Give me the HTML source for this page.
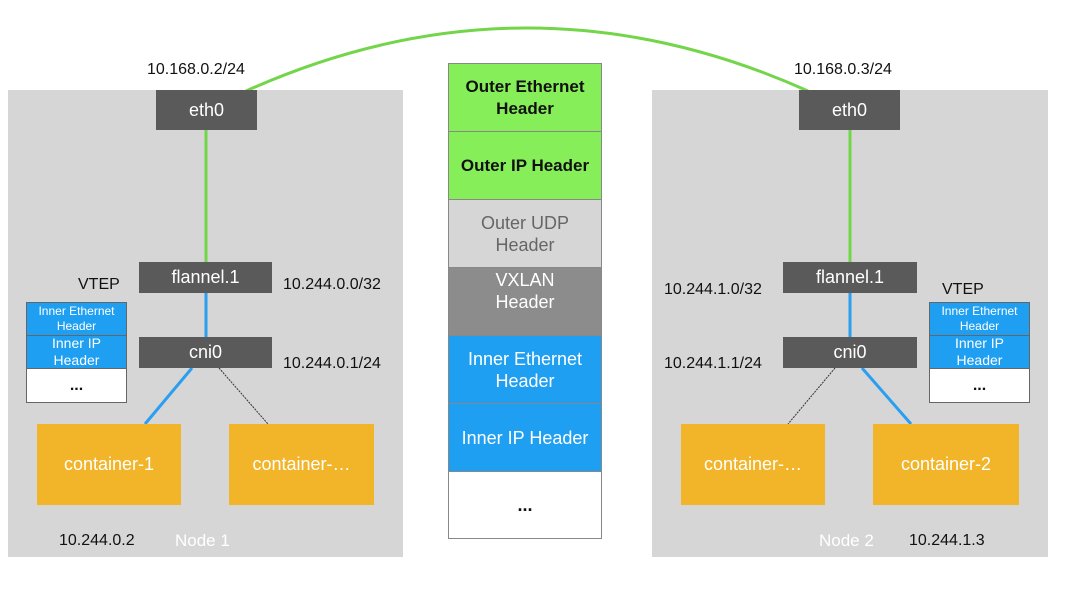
<!DOCTYPE html>
<html><head><style>
body{margin:0;width:1086px;height:596px;background:#fff;position:relative;overflow:hidden;font-family:"Liberation Sans",sans-serif}
.a{position:absolute;box-sizing:border-box;display:flex;align-items:center;justify-content:center;text-align:center}
.node{background:#d6d6d6}
.dk{background:#5a5a5a;color:#fff;font-size:18px}
.ct{background:#f2b52a;color:#fff;font-size:18px}
.t{position:absolute;font-size:16px;color:#111;white-space:nowrap}
.ps{border:1px solid #888;font-size:18px;line-height:22px}
.sm{border:1px solid #666;font-size:12px;line-height:15px;color:#fff}
</style></head><body>
<div class="a node" style="left:8px;top:90px;width:395px;height:467px"></div>
<div class="a node" style="left:652px;top:90px;width:396px;height:467px"></div>
<svg style="position:absolute;left:0;top:0" width="1086" height="596">
<path d="M246 91 Q527 -35 808 91" stroke="#72d54a" stroke-width="3" fill="none"/>
<line x1="206" y1="130" x2="206" y2="262" stroke="#72d54a" stroke-width="3"/>
<line x1="850" y1="130" x2="850" y2="262" stroke="#72d54a" stroke-width="3"/>
<line x1="206" y1="293" x2="206" y2="337" stroke="#2a9ef0" stroke-width="3"/>
<line x1="850" y1="293" x2="850" y2="337" stroke="#2a9ef0" stroke-width="3"/>
<line x1="192" y1="368" x2="145" y2="424" stroke="#2a9ef0" stroke-width="3"/>
<line x1="862" y1="368" x2="911" y2="424" stroke="#2a9ef0" stroke-width="3"/>
<line x1="219" y1="368" x2="268" y2="424" stroke="#333" stroke-width="1" stroke-dasharray="2,1"/>
<line x1="835" y1="368" x2="788" y2="424" stroke="#333" stroke-width="1" stroke-dasharray="2,1"/>
</svg>
<div class="a dk" style="left:156px;top:90px;width:101px;height:40px">eth0</div>
<div class="a dk" style="left:139px;top:262px;width:133px;height:31px">flannel.1</div>
<div class="a dk" style="left:139px;top:337px;width:133px;height:31px">cni0</div>
<div class="a dk" style="left:799px;top:90px;width:101px;height:40px">eth0</div>
<div class="a dk" style="left:783px;top:262px;width:134px;height:31px">flannel.1</div>
<div class="a dk" style="left:783px;top:337px;width:134px;height:31px">cni0</div>
<div class="a ct" style="left:37px;top:424px;width:144px;height:81px">container-1</div>
<div class="a ct" style="left:229px;top:424px;width:145px;height:81px">container-…</div>
<div class="a ct" style="left:681px;top:424px;width:144px;height:81px">container-…</div>
<div class="a ct" style="left:873px;top:424px;width:146px;height:81px">container-2</div>
<div class="a sm" style="left:26px;top:302px;width:101px;height:34px;background:#1f9ff2">Inner Ethernet<br>Header</div>
<div class="a sm" style="left:26px;top:335px;width:101px;height:34px;background:#1f9ff2;font-size:14px;line-height:17px">Inner IP<br>Header</div>
<div class="a sm" style="left:26px;top:368px;width:101px;height:35px;background:#fff;color:#111;font-size:16px;font-weight:bold">...</div>
<div class="a sm" style="left:929px;top:302px;width:101px;height:34px;background:#1f9ff2">Inner Ethernet<br>Header</div>
<div class="a sm" style="left:929px;top:335px;width:101px;height:34px;background:#1f9ff2;font-size:14px;line-height:17px">Inner IP<br>Header</div>
<div class="a sm" style="left:929px;top:368px;width:101px;height:35px;background:#fff;color:#111;font-size:16px;font-weight:bold">...</div>
<div class="a ps" style="left:448px;top:63px;width:154px;height:69px;background:#86ee58;color:#111;font-weight:bold;font-size:17px">Outer Ethernet<br>Header</div>
<div class="a ps" style="left:448px;top:131px;width:154px;height:69px;background:#86ee58;color:#111;font-weight:bold;font-size:17px">Outer IP Header</div>
<div class="a ps" style="left:448px;top:199px;width:154px;height:69px;background:#d6d6d6;color:#666">Outer UDP<br>Header</div>
<div class="a ps" style="left:448px;top:267px;width:154px;height:69px;background:#8c8c8c;color:#fff;align-items:flex-start;padding-top:1px">VXLAN<br>Header</div>
<div class="a ps" style="left:448px;top:335px;width:154px;height:69px;background:#1f9ff2;color:#fff">Inner Ethernet<br>Header</div>
<div class="a ps" style="left:448px;top:403px;width:154px;height:69px;background:#1f9ff2;color:#fff">Inner IP Header</div>
<div class="a ps" style="left:448px;top:471px;width:154px;height:68px;background:#fff;color:#111;font-weight:bold">...</div>
<div class="t" style="left:147px;top:61px">10.168.0.2/24</div>
<div class="t" style="left:794px;top:61px">10.168.0.3/24</div>
<div class="t" style="left:78px;top:276px">VTEP</div>
<div class="t" style="left:283px;top:276px">10.244.0.0/32</div>
<div class="t" style="left:283px;top:355px">10.244.0.1/24</div>
<div class="t" style="left:664px;top:281px">10.244.1.0/32</div>
<div class="t" style="left:942px;top:281px">VTEP</div>
<div class="t" style="left:664px;top:355px">10.244.1.1/24</div>
<div class="t" style="left:59px;top:532px">10.244.0.2</div>
<div class="t" style="left:175px;top:531px;color:#fff;font-size:17px">Node 1</div>
<div class="t" style="left:819px;top:531px;color:#fff;font-size:17px">Node 2</div>
<div class="t" style="left:909px;top:532px">10.244.1.3</div>
</body></html>
